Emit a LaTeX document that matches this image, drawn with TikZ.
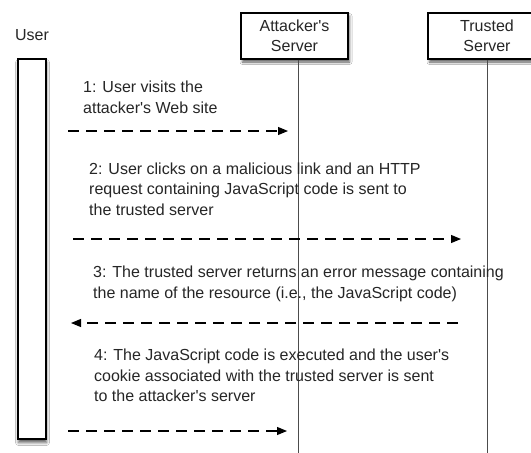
\documentclass[tikz,border=0pt]{standalone}
\usepackage{fontspec}
\setmainfont{Liberation Sans}
\usetikzlibrary{arrows.meta,shadows.blur}
\newcommand{\aq}{\textquotesingle}
\begin{document}
\begin{tikzpicture}[x=1pt,y=-1pt,
  every node/.style={font=\fontsize{16}{20.5}\selectfont, text=black!85},
  actorbox/.style={draw=black, line width=1.2pt, fill=white, align=center,
     blur shadow={shadow xshift=1.5pt, shadow yshift=-3pt, shadow blur radius=2.5pt, shadow opacity=65}},
  actbar/.style={draw=black, line width=1.3pt, fill=white,
     blur shadow={shadow xshift=0.5pt, shadow yshift=-3.5pt, shadow blur radius=3pt, shadow opacity=65}},
  lifeline/.style={draw=black!70, line width=0.8pt},
  msg/.style={draw=black, line width=1.1pt, dash pattern=on 11pt off 7pt, -{Triangle[length=10pt,width=8pt]}},
  msgtext/.style={anchor=north west, align=left, inner sep=0pt}
]
\useasboundingbox (0,0) rectangle (531,453);
\fill[white] (0,0) rectangle (531,453);

% User
\node[inner sep=0pt] (userlbl) at (32,35) {User};
\node[actbar, minimum width=28pt, minimum height=380pt, inner sep=0pt] (userbar) at (32,249) {};

% Attacker's server
\node[actorbox, minimum width=107pt, minimum height=46pt, inner sep=0pt] (att) at (294.5,36) {\fontsize{16}{21}\selectfont Attacker\aq s\\ Server};
\coordinate (attend) at (298,453);
\draw[lifeline] (att.south -| attend) -- (attend);

% Trusted server
\node[actorbox, minimum width=118pt, minimum height=46pt, inner sep=0pt] (tru) at (487,36) {\fontsize{16}{21}\selectfont Trusted\\ Server};
\coordinate (truend) at (487,453);
\draw[lifeline] (tru.south) -- (truend);

% messages
\node[msgtext] (t1) at (83,81) {1: User visits the\\ attacker\aq s Web site};
\coordinate (m1s) at (68,131);
\coordinate (m1e) at (288,131);
\draw[msg] (m1s) -- (m1e);

\node[msgtext] (t2) at (89,162.5) {2: User clicks on a malicious link and an HTTP\\ request containing JavaScript code is sent to\\ the trusted server};
\coordinate (m2s) at (73,239);
\coordinate (m2e) at (461,239);
\draw[msg] (m2s) -- (m2e);

\node[msgtext] (t3) at (93,266) {3: The trusted server returns an error message containing\\ the name of the resource (i.e., the JavaScript code)};
\coordinate (m3s) at (458,323);
\coordinate (m3e) at (71,323);
\draw[msg] (m3s) -- (m3e);

\node[msgtext] (t4) at (94,349) {4: The JavaScript code is executed and the user\aq s\\ cookie associated with the trusted server is sent\\ to the attacker\aq s server};
\coordinate (m4s) at (68,431);
\coordinate (m4e) at (287,431);
\draw[msg] (m4s) -- (m4e);
\end{tikzpicture}
\end{document}
